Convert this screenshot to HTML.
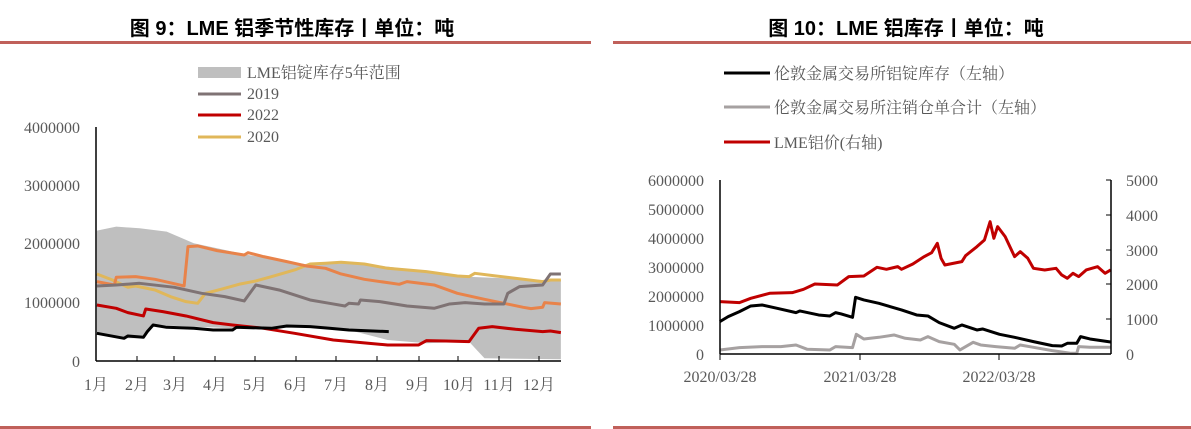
<!DOCTYPE html>
<html><head><meta charset="utf-8"><style>
body{margin:0;width:1191px;height:429px;background:#fff;overflow:hidden}
svg{display:block}
</style></head><body>
<svg width="1191" height="429" xmlns="http://www.w3.org/2000/svg">
<!-- Titles and rules -->
<g font-family="'Liberation Sans','Noto Sans CJK SC',sans-serif" font-weight="bold" font-size="20" fill="#000" text-anchor="middle">
<text x="292" y="35">图 9：LME 铝季节性库存丨单位：吨</text>
<text x="906" y="35">图 10：LME 铝库存丨单位：吨</text>
</g>
<rect x="0" y="41" width="591" height="3" fill="#c0605a"/>
<rect x="613" y="41" width="578" height="3" fill="#c0605a"/>
<rect x="0" y="426" width="591" height="3" fill="#c0605a"/>
<rect x="613" y="426" width="578" height="3" fill="#c0605a"/>

<!-- LEFT CHART -->
<g transform="scale(0.3876,0.3333)">
<polygon fill="#bfbfbf" points="250,692 300,680 360,685 430,695 470,715 500,730 560,745 640,765 700,775 800,795 900,790 1000,800 1100,815 1200,830 1300,835 1400,840 1447,840 1447,1078 1250,1075 1230,1050 1210,1025 1100,1030 1000,1020 900,990 750,980 600,985 395,975 370,1015 320,1015 250,1000"/>
<g fill="none" stroke-width="3" vector-effect="non-scaling-stroke" stroke-linejoin="round">
<polyline vector-effect="non-scaling-stroke" stroke="#e0b75a" stroke-width="3" fill="none" points="250,822 290,840 330,862 350,858 400,870 440,890 480,905 510,910 530,880 570,868 620,852 660,843 700,830 760,810 800,792 840,790 880,787 940,792 1000,805 1100,815 1180,828 1210,830 1225,820 1280,828 1400,845 1420,840 1447,840"/>
<polyline vector-effect="non-scaling-stroke" stroke="#e8834a" stroke-width="3" fill="none" points="250,845 295,855 300,832 350,830 400,838 475,858 485,740 510,738 560,752 630,765 640,758 680,770 740,785 790,798 840,805 880,822 940,838 1000,848 1030,853 1050,845 1120,855 1180,880 1250,898 1300,910 1350,922 1370,926 1400,922 1405,908 1447,912"/>
<polyline vector-effect="non-scaling-stroke" stroke="#7f7374" stroke-width="3" fill="none" points="250,858 300,855 360,850 450,862 520,880 580,890 630,903 660,855 720,870 760,885 800,900 850,910 890,918 900,910 925,912 930,900 980,905 1050,918 1120,925 1160,912 1200,908 1250,912 1300,912 1310,880 1340,860 1400,855 1420,822 1447,822"/>
<polyline vector-effect="non-scaling-stroke" stroke="#c00000" stroke-width="3" fill="none" points="250,915 300,925 330,938 370,948 376,927 420,935 480,948 550,968 600,975 680,985 760,1000 860,1020 950,1030 1000,1035 1080,1035 1100,1022 1150,1023 1210,1025 1235,985 1270,980 1330,988 1400,995 1420,993 1447,998"/>
<polyline vector-effect="non-scaling-stroke" stroke="#000" stroke-width="3" fill="none" points="250,1000 320,1015 330,1008 370,1012 380,995 395,975 430,982 500,985 550,990 600,990 610,982 700,985 740,978 800,980 850,985 900,990 1003,995"/>
</g>
</g>
<g stroke="#000" stroke-width="1.5">
<line x1="96" y1="127" x2="96" y2="361"/>
<line x1="96" y1="361" x2="561" y2="361"/>
<g stroke-width="1">
<line x1="137" y1="356" x2="137" y2="361"/><line x1="174" y1="356" x2="174" y2="361"/><line x1="215" y1="356" x2="215" y2="361"/><line x1="255" y1="356" x2="255" y2="361"/><line x1="296" y1="356" x2="296" y2="361"/><line x1="336" y1="356" x2="336" y2="361"/><line x1="377" y1="356" x2="377" y2="361"/><line x1="419" y1="356" x2="419" y2="361"/><line x1="458" y1="356" x2="458" y2="361"/><line x1="499" y1="356" x2="499" y2="361"/><line x1="539" y1="356" x2="539" y2="361"/>
</g></g>
<g font-family="'Liberation Serif','Noto Serif CJK SC',serif" font-size="16" fill="#595959">
<g text-anchor="end">
<text x="80" y="133">4000000</text><text x="80" y="191">3000000</text><text x="80" y="249">2000000</text><text x="80" y="308">1000000</text><text x="80" y="367">0</text>
</g>
<g text-anchor="middle">
<text x="96" y="390">1月</text><text x="137" y="390">2月</text><text x="175" y="390">3月</text><text x="215" y="390">4月</text><text x="255" y="390">5月</text><text x="296" y="390">6月</text><text x="336" y="390">7月</text><text x="377" y="390">8月</text><text x="418" y="390">9月</text><text x="459" y="390">10月</text><text x="499" y="390">11月</text><text x="539" y="390">12月</text>
</g>
<rect x="198" y="67" width="43" height="11" fill="#bfbfbf"/>
<line x1="198" y1="94" x2="241" y2="94" stroke="#7f7374" stroke-width="3"/>
<line x1="198" y1="115" x2="241" y2="115" stroke="#c00000" stroke-width="3"/>
<line x1="198" y1="137" x2="241" y2="137" stroke="#e0b75a" stroke-width="3"/>
<text x="247" y="78">LME铝锭库存5年范围</text>
<text x="247" y="99">2019</text>
<text x="247" y="120">2022</text>
<text x="247" y="142">2020</text>
</g>

<!-- RIGHT CHART -->
<g transform="translate(600,0) scale(0.3769,0.3333)">
<polyline vector-effect="non-scaling-stroke" stroke="#a6a1a1" stroke-width="3" fill="none" stroke-linejoin="round" points="318,1050 370,1043 430,1040 480,1040 520,1035 550,1048 610,1050 625,1040 670,1043 680,1003 700,1017 740,1012 780,1005 810,1015 850,1020 870,1010 900,1025 940,1033 955,1050 990,1027 1010,1035 1050,1040 1100,1045 1115,1035 1150,1042 1200,1052 1250,1060 1265,1060 1270,1040 1300,1042 1355,1042"/>
<polyline vector-effect="non-scaling-stroke" stroke="#000" stroke-width="3" fill="none" stroke-linejoin="round" points="318,965 340,950 370,935 400,918 430,915 470,925 520,938 530,933 580,945 610,948 625,938 640,942 670,952 678,892 700,900 740,910 800,930 840,945 870,948 900,968 940,985 960,975 1000,990 1015,987 1060,1003 1100,1012 1150,1025 1200,1037 1225,1038 1240,1030 1265,1030 1275,1010 1300,1017 1355,1026"/>
<polyline vector-effect="non-scaling-stroke" stroke="#c00000" stroke-width="3" fill="none" stroke-linejoin="round" points="318,905 370,908 400,895 450,880 510,878 540,868 570,852 630,855 660,830 700,828 735,802 760,808 790,800 800,808 830,792 860,770 880,758 895,730 905,775 915,795 960,785 970,767 1000,740 1020,720 1035,665 1045,715 1055,680 1075,710 1100,770 1115,755 1135,775 1150,805 1180,810 1210,805 1225,825 1240,835 1255,820 1270,830 1290,810 1320,800 1340,820 1355,810"/>
</g>
<g stroke="#000" stroke-width="1.5">
<line x1="720" y1="180" x2="720" y2="354"/>
<line x1="720" y1="354" x2="1111" y2="354"/>
<line x1="1111" y1="180" x2="1111" y2="354"/>
<g stroke-width="1">
<line x1="860" y1="354" x2="860" y2="360"/><line x1="999" y1="354" x2="999" y2="360"/><line x1="720" y1="354" x2="720" y2="360"/>
<line x1="1106" y1="180" x2="1111" y2="180"/><line x1="1106" y1="215" x2="1111" y2="215"/><line x1="1106" y1="250" x2="1111" y2="250"/><line x1="1106" y1="284" x2="1111" y2="284"/><line x1="1106" y1="319" x2="1111" y2="319"/>
</g></g>
<g font-family="'Liberation Serif','Noto Serif CJK SC',serif" font-size="16" fill="#595959">
<g text-anchor="end">
<text x="704" y="186">6000000</text><text x="704" y="215">5000000</text><text x="704" y="244">4000000</text><text x="704" y="273">3000000</text><text x="704" y="302">2000000</text><text x="704" y="331">1000000</text><text x="704" y="360">0</text>
</g>
<text x="1126" y="186">5000</text><text x="1126" y="221">4000</text><text x="1126" y="256">3000</text><text x="1126" y="290">2000</text><text x="1126" y="325">1000</text><text x="1126" y="360">0</text>
<g text-anchor="middle"><text x="720" y="382">2020/03/28</text><text x="860" y="382">2021/03/28</text><text x="999" y="382">2022/03/28</text></g>
<line x1="724" y1="73" x2="770" y2="73" stroke="#000" stroke-width="3"/>
<line x1="724" y1="107" x2="770" y2="107" stroke="#a6a1a1" stroke-width="3"/>
<line x1="724" y1="142" x2="770" y2="142" stroke="#c00000" stroke-width="3"/>
<text x="774" y="79">伦敦金属交易所铝锭库存（左轴）</text>
<text x="774" y="113">伦敦金属交易所注销仓单合计（左轴）</text>
<text x="774" y="148">LME铝价(右轴)</text>
</g>
</svg>
</body></html>
